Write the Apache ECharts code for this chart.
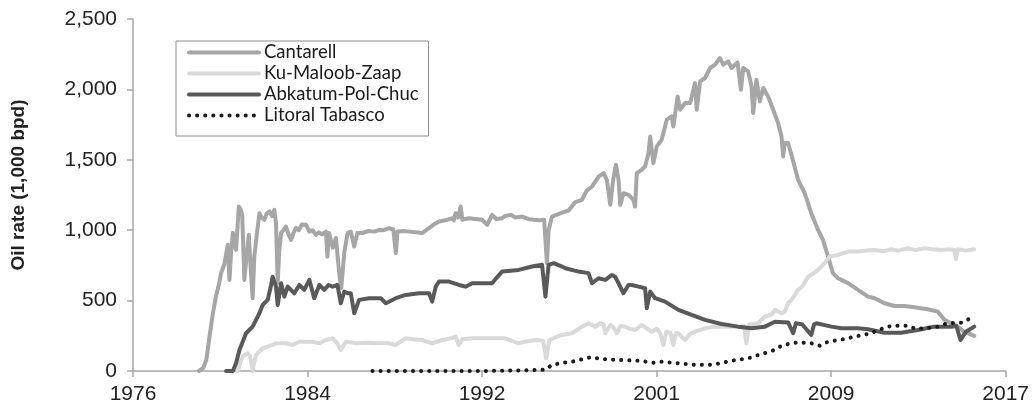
<!DOCTYPE html>
<html>
<head>
<meta charset="utf-8">
<script src="https://cdn.jsdelivr.net/npm/echarts@6/dist/echarts.min.js"></script>
<style>html,body{margin:0;padding:0;background:#fff}#c{width:1032px;height:410px}</style>
</head>
<body>
<div id="c"></div>
<script>
// ---- data (decimal year, thousand bpd) ----
const seriesNames = ['Cantarell', 'Ku-Maloob-Zaap', 'Abkatum-Pol-Chuc', 'Litoral Tabasco'];
const xTickYears = [1976.5, 1984.714, 1992.927, 2001.141, 2009.355, 2017.568];
const yTicks = [0, 500, 1000, 1500, 2000, 2500];

const cantarellYears = [1979.6,1979.8,1979.95,1980.1,1980.25,1980.4,1980.55,1980.65,1980.8,1980.96,1981.04,1981.12,1981.2,1981.28,1981.35,1981.48,1981.56,1981.64,1981.74,1981.85,1981.95,1982.05,1982.13,1982.21,1982.35,1982.45,1982.55,1982.68,1982.8,1982.92,1983.05,1983.15,1983.23,1983.31,1983.38,1983.47,1983.58,1983.7,1983.82,1983.94,1984.05,1984.17,1984.3,1984.45,1984.64,1984.8,1984.95,1985.11,1985.25,1985.4,1985.58,1985.65,1985.73,1985.9,1986.05,1986.2,1986.3,1986.45,1986.6,1986.75,1986.83,1986.91,1987.06,1987.3,1987.6,1987.85,1988.08,1988.3,1988.55,1988.75,1988.87,1988.95,1989.0,1989.25,1989.5,1989.8,1990.11,1990.43,1990.65,1990.9,1991.2,1991.52,1991.6,1991.68,1991.8,1991.92,1992.0,1992.15,1992.31,1992.6,1992.93,1993.17,1993.4,1993.6,1993.87,1994.0,1994.27,1994.5,1994.81,1995.1,1995.36,1995.6,1995.85,1995.98,1996.06,1996.22,1996.45,1996.69,1997.0,1997.32,1997.63,1997.85,1998.1,1998.41,1998.65,1998.8,1998.96,1999.1,1999.23,1999.35,1999.43,1999.58,1999.82,2000.05,2000.13,2000.21,2000.44,2000.6,2000.76,2000.84,2000.99,2001.15,2001.38,2001.62,2001.85,2001.93,2002.13,2002.25,2002.48,2002.72,2002.95,2003.03,2003.19,2003.42,2003.66,2003.89,2004.12,2004.28,2004.51,2004.67,2004.95,2005.11,2005.22,2005.45,2005.61,2005.69,2005.84,2006.0,2006.16,2006.39,2006.63,2006.86,2007.02,2007.1,2007.17,2007.33,2007.55,2007.8,2008.11,2008.42,2008.74,2008.97,2009.21,2009.44,2009.68,2010.15,2010.62,2011.09,2011.4,2011.87,2012.34,2012.81,2013.28,2013.9,2014.37,2014.69,2015.0,2015.31,2015.62,2016.09];
const cantarellRates = [0,20,78,244,400,528,620,697,760,896,647,850,981,900,860,1168,1150,1109,647,820,967,700,517,813,1000,1121,1090,1074,1120,1133,1100,1145,1052,626,850,981,1000,1026,970,931,980,1017,1000,1040,1038,990,1000,967,985,970,990,813,980,875,945,700,590,850,980,990,1002,884,981,980,995,990,1002,1000,1014,1005,837,990,1002,995,990,985,980,1014,1040,1062,1070,1085,1070,1121,1090,1168,1074,1080,1085,1080,1074,1038,1109,1080,1085,1100,1109,1090,1097,1080,1074,1070,1074,766,1000,1097,1110,1125,1140,1200,1216,1280,1310,1381,1405,1358,1180,1360,1465,1358,1180,1263,1251,1216,1168,1405,1429,1452,1547,1666,1476,1595,1642,1785,1808,1737,1950,1856,1903,1903,2045,1856,2057,2081,2152,2176,2223,2176,2199,2152,2192,1998,2152,2128,2021,1832,2069,1915,2010,1950,1856,1761,1666,1524,1619,1619,1500,1358,1263,1121,1002,931,813,695,659,624,576,528,517,481,462,462,453,439,422,363,339,315,279,249];

const kmzYears = [1981.43,1981.55,1981.66,1981.9,1982.0,1982.13,1982.2,1982.29,1982.6,1983.07,1983.23,1983.7,1984.01,1984.33,1984.95,1985.27,1985.58,1985.89,1986.1,1986.28,1986.52,1987.0,1987.5,1988.0,1988.55,1988.87,1989.33,1989.7,1990.11,1990.58,1991.05,1991.4,1991.68,1991.83,1992.0,1992.46,1993.24,1994.03,1994.65,1995.0,1995.44,1995.8,1995.94,1996.1,1996.4,1996.69,1997.16,1997.63,1997.94,1998.26,1998.49,1998.65,1998.73,1998.96,1999.1,1999.27,1999.45,1999.66,1999.85,2000.13,2000.44,2000.7,2000.91,2001.15,2001.31,2001.46,2001.6,2001.8,2001.93,2002.05,2002.17,2002.48,2002.7,2002.95,2003.42,2003.89,2004.36,2004.98,2005.25,2005.37,2005.5,2005.92,2006.24,2006.55,2006.71,2007.02,2007.17,2007.33,2007.49,2007.8,2008.0,2008.27,2008.5,2008.74,2009.05,2009.29,2009.68,2010.15,2010.62,2011.0,2011.4,2011.8,2012.18,2012.5,2012.96,2013.3,2013.75,2014.1,2014.53,2014.9,2015.15,2015.23,2015.31,2015.7,2016.09];
const kmzRates = [0,60,102,126,110,0,60,114,161,185,197,197,185,208,208,197,220,232,200,149,208,197,200,197,197,185,232,225,220,197,220,230,244,185,225,232,232,232,197,210,220,215,90,220,240,256,268,315,339,315,339,330,268,327,310,268,320,315,300,291,327,300,279,300,268,185,280,270,185,270,268,220,260,279,303,315,315,315,320,197,330,339,386,400,434,410,420,481,505,576,600,670,690,718,766,813,825,848,848,855,860,850,865,855,872,860,872,865,860,865,860,794,865,855,865];

const apcYears = [1980.88,1981.2,1981.35,1981.51,1981.82,1982.13,1982.45,1982.6,1982.84,1983.0,1983.07,1983.23,1983.31,1983.47,1983.62,1983.78,1984.09,1984.33,1984.56,1984.8,1985.03,1985.27,1985.5,1985.7,1985.89,1986.12,1986.28,1986.44,1986.6,1986.75,1986.91,1987.14,1987.61,1988.16,1988.4,1988.87,1989.33,1989.96,1990.43,1990.58,1990.75,1990.9,1991.37,1991.84,1992.15,1992.46,1993.09,1993.4,1993.6,1993.87,1994.65,1995.28,1995.75,1995.91,1996.06,1996.3,1996.69,1996.85,1997.47,1997.94,1998.1,1998.41,1998.73,1999.04,1999.19,1999.35,1999.58,1999.82,1999.97,2000.29,2000.6,2000.68,2000.84,2001.07,2001.54,2002.17,2002.79,2003.42,2004.2,2004.98,2005.61,2006.24,2006.71,2007.33,2007.57,2007.7,2008.0,2008.42,2008.55,2008.66,2009.37,2009.84,2010.62,2011.09,2011.87,2012.65,2013.43,2014.22,2015.0,2015.25,2015.44,2015.7,2016.09];
const apcRates = [0,0,55,149,268,315,410,469,505,611,670,599,469,623,528,599,552,611,576,647,517,611,576,611,599,611,481,564,552,552,410,505,517,517,481,517,540,552,552,493,600,635,635,611,599,623,623,623,660,706,718,742,754,528,754,766,742,730,706,695,623,659,647,682,670,623,552,611,611,599,588,446,564,517,493,434,398,363,334,315,303,315,350,345,268,340,330,256,330,339,315,303,303,296,272,272,291,315,315,320,220,279,315];

const ltYears = [1987.77,1990,1993,1995.59,1995.9,1996.22,1996.6,1997.16,1998.02,1998.73,1999.5,2000.29,2000.99,2001.38,2002.17,2002.79,2003.58,2003.97,2004.67,2005.45,2006.08,2006.55,2006.71,2007.1,2007.8,2008.42,2008.82,2009.21,2009.91,2010.62,2011.24,2011.56,2012.18,2012.96,2013.36,2013.75,2014.37,2014.84,2015.47,2015.81];
const ltRates = [0,0,0,7,10,43,55,66,97,83,78,73,59,66,55,45,43,50,73,90,121,140,154,185,204,197,180,208,225,249,268,291,320,322,299,303,315,339,343,367];

// ---- chart ----
const pair = (xs, ys) => xs.map((x, i) => [x, ys[i]]);
const commas = v => String(v).replace(/\B(?=(\d{3})+(?!\d))/g, ',');
const axisGray = '#a6a6a6';
const labelFont = { fontFamily: '"Liberation Sans", Arial, sans-serif', fontSize: 21, lineHeight: 21, color: '#222' };

const chart = echarts.init(document.getElementById('c'), null, { renderer: 'canvas' });
const lineSeries = (name, data, color, width, type) => ({
  name, type: 'line', data, showSymbol: false, symbol: 'none', smooth: false,
  lineStyle: { color, width, type: type || 'solid', cap: 'round', join: 'round' },
  itemStyle: { color }, emphasis: { disabled: true }, z: 2
});

chart.setOption({
  animation: false,
  grid: { left: 133, right: 24, top: 19, bottom: 39, containLabel: false },
  legend: {
    orient: 'vertical', left: 176, top: 41,
    padding: [2, 10, 11, 11], itemGap: 2,
    itemWidth: 70, itemHeight: 14,
    borderColor: '#8c8c8c', borderWidth: 1, backgroundColor: '#fff',
    itemStyle: { opacity: 0, borderWidth: 0 },
    lineStyle: { width: 4 },
    textStyle: { fontFamily: 'Lato, "Open Sans", sans-serif', fontSize: 18.5, color: '#1a1a1a', lineHeight: 18 },
    data: seriesNames
  },
  xAxis: {
    type: 'value', min: xTickYears[0], max: xTickYears[xTickYears.length - 1],
    axisLine: { show: true, lineStyle: { color: axisGray, width: 1.5 } },
    axisTick: { show: true, length: 6, lineStyle: { color: axisGray, width: 1.5 }, customValues: xTickYears },
    axisLabel: Object.assign({ margin: 13, customValues: xTickYears, formatter: v => String(Math.floor(v + 1e-6)) }, labelFont),
    splitLine: { show: false }
  },
  yAxis: {
    type: 'value', min: 0, max: 2500, interval: 500,
    axisLine: { show: true, lineStyle: { color: axisGray, width: 1.5 } },
    axisTick: { show: true, length: 6, lineStyle: { color: axisGray, width: 1.5 } },
    axisLabel: Object.assign({ margin: 16, formatter: v => commas(v) }, labelFont),
    splitLine: { show: false }
  },
  graphic: [{
    type: 'text', x: 19, y: 185, rotation: Math.PI / 2,
    style: { text: 'Oil rate (1,000 bpd)', fontFamily: '"Liberation Sans", Arial, sans-serif', fontWeight: 'bold', fontSize: 19, fill: '#222', align: 'center', verticalAlign: 'middle' }
  }],
  series: [
    lineSeries(seriesNames[0], pair(cantarellYears, cantarellRates), '#a6a6a6', 4),
    lineSeries(seriesNames[1], pair(kmzYears, kmzRates), '#d9d9d9', 4),
    lineSeries(seriesNames[2], pair(apcYears, apcRates), '#595959', 4),
    lineSeries(seriesNames[3], pair(ltYears, ltRates), '#1a1a1a', 4, [0.1, 8])
  ]
});
</script>
</body>
</html>
